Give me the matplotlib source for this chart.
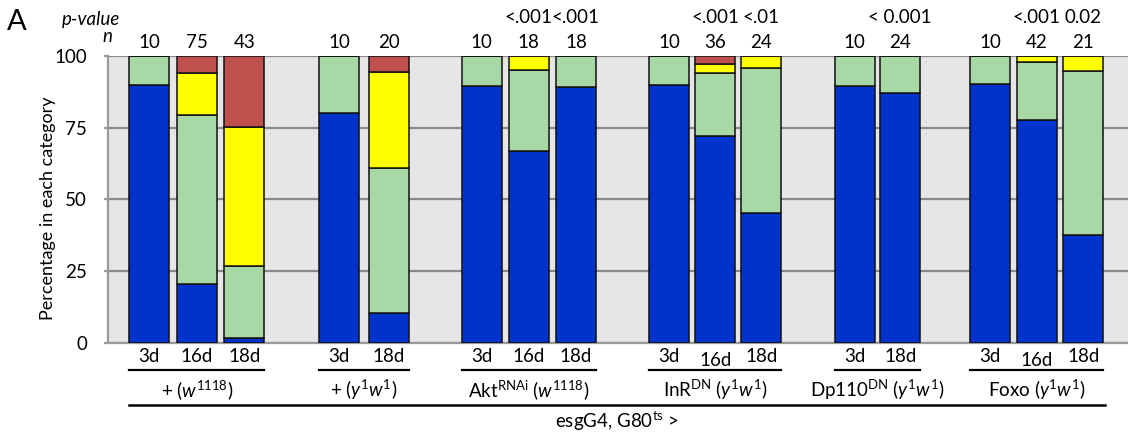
import matplotlib
matplotlib.use('Agg')
import matplotlib.pyplot as plt
from matplotlib.transforms import blended_transform_factory
from matplotlib.lines import Line2D

# ---------------- data ----------------
groups = ['+ ($w^{1118}$)', '+ ($y^{1}w^{1}$)', 'Akt$^{\\mathrm{RNAi}}$ ($w^{1118}$)',
          'InR$^{\\mathrm{DN}}$ ($y^{1}w^{1}$)', 'Dp110$^{\\mathrm{DN}}$ ($y^{1}w^{1}$)',
          'Foxo ($y^{1}w^{1}$)']
days = [['3d', '16d', '18d'], ['3d', '18d'], ['3d', '16d', '18d'],
        ['3d', '16d', '18d'], ['3d', '18d'], ['3d', '16d', '18d']]
n_values = [[10, 75, 43], [10, 20], [10, 18, 18], [10, 36, 24], [10, 24], [10, 42, 21]]
p_values = [['', '', ''], ['', ''], ['', '<.001', '<.001'], ['', '<.001', '<.01'],
            ['', '< 0.001'], ['', '<.001', '0.02']]

# stacked categories (bottom to top), one value per bar in order
blue = [90, 20.5, 1.5, 80, 10.2, 89.5, 66.8, 89.1, 90, 72.1, 45.3, 89.6, 87, 90.3, 77.6, 37.5]
green = [10, 59.0, 25.1, 20, 50.6, 10.5, 28.2, 10.9, 10, 22.1, 50.5, 10.4, 13, 9.7, 20.4, 57.3]
yellow = [0, 14.6, 48.5, 0, 33.5, 0, 5.0, 0, 0, 3.0, 4.2, 0, 0, 0, 2.0, 5.2]
red = [0, 5.9, 24.9, 0, 5.7, 0, 0, 0, 0, 2.8, 0, 0, 0, 0, 0, 0]
yticks = [0, 25, 50, 75, 100]

# ---------------- layout / style ----------------
W, H = 1128, 434
group_first = [149.3, 339.3, 481.5, 669.3, 854.7, 990.3]
group_step = [47.5, 49.7, 47.2, 46.0, 45.6, 46.5]
bar_w = 40
day_dy = [[0, 0, 0], [0, 0], [0, 0, 0], [0, 3, 0], [0, 0], [0, 3, 0]]
colors = ['#0033cc', '#a8d8a6', '#ffff00', '#c0504d']
FONT = 'Lato'
FS = 13.5

plt.rcParams['font.family'] = [FONT, 'DejaVu Sans']
plt.rcParams['mathtext.fontset'] = 'custom'
plt.rcParams['mathtext.rm'] = FONT
plt.rcParams['mathtext.it'] = FONT + ':italic'
plt.rcParams['mathtext.bf'] = FONT + ':bold'

fig = plt.figure(figsize=(W / 100, H / 100), dpi=100)
ax_left, ax_right, ax_top, ax_bot = 108, 1128, 56, 342.5
ax = fig.add_axes([ax_left / W, 1 - ax_bot / H, (ax_right - ax_left) / W, (ax_bot - ax_top) / H])
ax.set_facecolor('#e6e6e6')
ax.set_xlim(ax_left, ax_right)
ax.set_ylim(0, 100)

xs = []
for g, labs in enumerate(days):
    for i in range(len(labs)):
        xs.append(group_first[g] + i * group_step[g])

for y in yticks:
    ax.axhline(y, color='#8a8a8a', lw=1.6, zorder=1)

bottom = [0] * len(xs)
for vals, col in zip([blue, green, yellow, red], colors):
    ax.bar(xs, vals, width=bar_w, bottom=bottom, color=col, edgecolor='#111111',
           linewidth=1.1, zorder=3)
    bottom = [b + v for b, v in zip(bottom, vals)]

ax.set_yticks(yticks)
ax.set_yticklabels([str(t) for t in yticks], fontsize=FS)
ax.set_xticks([])
for s in ['top', 'right']:
    ax.spines[s].set_visible(False)
for s in ['left', 'bottom']:
    ax.spines[s].set_color('#9a9a9a')
    ax.spines[s].set_linewidth(1.6)
ax.tick_params(axis='y', length=3, width=1.6, color='#9a9a9a', pad=12)

def fy(py):
    return 1 - py / H

tr = blended_transform_factory(ax.transData, fig.transFigure)

fig.text(48 / W, fy(208), 'Percentage in each category', rotation=90,
         ha='center', va='center', fontsize=13)
fig.text(17 / W, fy(22), 'A', ha='center', va='center', fontsize=21)
fig.text(91 / W, fy(19), 'p-value', ha='center', va='center', fontsize=FS, style='italic')
fig.text(107 / W, fy(36), 'n', ha='center', va='center', fontsize=FS, style='italic')

k = 0
for g, labs in enumerate(days):
    gx = []
    for i, lab in enumerate(labs):
        x = xs[k]
        gx.append(x)
        ax.text(x, fy(42), str(n_values[g][i]), transform=tr, ha='center', va='center', fontsize=FS)
        if p_values[g][i]:
            ax.text(x, fy(17.5), p_values[g][i], transform=tr, ha='center', va='center', fontsize=FS)
        ax.text(x, fy(357 + day_dy[g][i]), lab, transform=tr, ha='center', va='center', fontsize=FS)
        k += 1
    x0, x1 = gx[0] - bar_w / 2, gx[-1] + bar_w / 2
    fig.add_artist(Line2D([x0, x1], [fy(370), fy(370)], transform=tr, color='black', lw=1.6))
    ax.text((x0 + x1) / 2, fy(390), groups[g], transform=tr, ha='center', va='center', fontsize=FS)

fig.add_artist(Line2D([129, 1105], [fy(405), fy(405)], transform=tr, color='black', lw=1.8))
ax.text(617, fy(421), 'esgG4, G80$^{\\mathrm{ts}}$ >', transform=tr, ha='center', va='center', fontsize=FS)

fig.savefig('out.png', dpi=100)
